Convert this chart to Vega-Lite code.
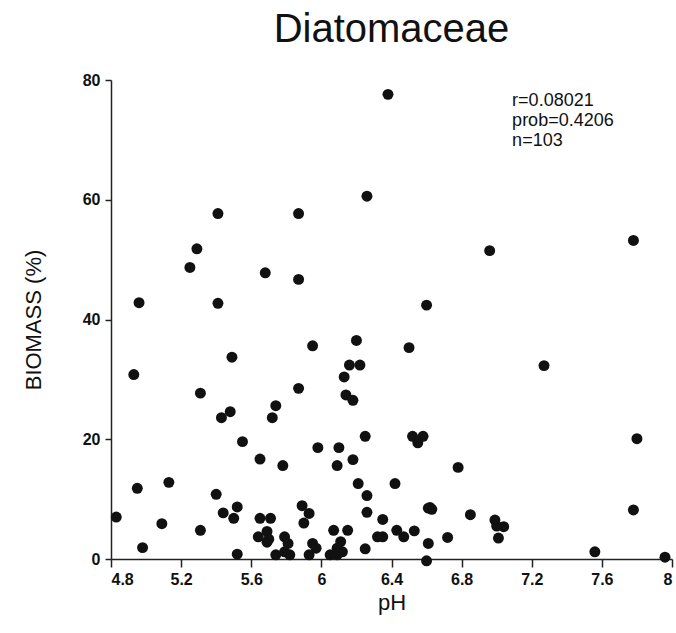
{
  "$schema": "https://vega.github.io/schema/vega-lite/v6.json",
  "autosize": "none",
  "width": 561,
  "height": 479,
  "padding": {"left": 111, "top": 80, "right": 4, "bottom": 74},
  "background": "white",
  "config": {"view": {"stroke": null}, "font": "Liberation Sans"},
  "title": {"text": "Diatomaceae", "fontSize": 40, "fontWeight": "normal", "font": "Liberation Sans", "color": "#111", "anchor": "middle", "offset": 22},
  "data": {"values": [
    {"pH": 6.38, "biomass": 77.6}, {"pH": 6.26, "biomass": 60.6}, {"pH": 5.41, "biomass": 57.7}, {"pH": 5.87, "biomass": 57.7},
    {"pH": 5.29, "biomass": 51.8}, {"pH": 5.25, "biomass": 48.7}, {"pH": 5.68, "biomass": 47.8}, {"pH": 5.87, "biomass": 46.7},
    {"pH": 4.96, "biomass": 42.8}, {"pH": 5.41, "biomass": 42.7}, {"pH": 6.96, "biomass": 51.5}, {"pH": 7.78, "biomass": 53.2},
    {"pH": 6.60, "biomass": 42.4}, {"pH": 4.93, "biomass": 30.8}, {"pH": 6.20, "biomass": 36.5}, {"pH": 5.95, "biomass": 35.6},
    {"pH": 5.49, "biomass": 33.7}, {"pH": 6.16, "biomass": 32.4}, {"pH": 6.22, "biomass": 32.4}, {"pH": 6.13, "biomass": 30.4},
    {"pH": 5.87, "biomass": 28.5}, {"pH": 5.31, "biomass": 27.7}, {"pH": 6.14, "biomass": 27.4}, {"pH": 6.18, "biomass": 26.5},
    {"pH": 5.74, "biomass": 25.6}, {"pH": 5.48, "biomass": 24.6}, {"pH": 5.43, "biomass": 23.6}, {"pH": 5.72, "biomass": 23.6},
    {"pH": 5.55, "biomass": 19.6}, {"pH": 6.25, "biomass": 20.5}, {"pH": 5.98, "biomass": 18.6}, {"pH": 6.10, "biomass": 18.6},
    {"pH": 5.65, "biomass": 16.7}, {"pH": 5.78, "biomass": 15.6}, {"pH": 6.09, "biomass": 15.6}, {"pH": 6.18, "biomass": 16.6},
    {"pH": 6.50, "biomass": 35.3}, {"pH": 7.27, "biomass": 32.3}, {"pH": 6.52, "biomass": 20.5}, {"pH": 6.58, "biomass": 20.5},
    {"pH": 6.55, "biomass": 19.4}, {"pH": 7.80, "biomass": 20.1}, {"pH": 6.78, "biomass": 15.3},
    {"pH": 4.95, "biomass": 11.8}, {"pH": 5.13, "biomass": 12.8}, {"pH": 6.21, "biomass": 12.6}, {"pH": 6.42, "biomass": 12.6},
    {"pH": 5.40, "biomass": 10.8}, {"pH": 6.26, "biomass": 10.6}, {"pH": 4.83, "biomass": 7.0}, {"pH": 5.09, "biomass": 5.9},
    {"pH": 5.31, "biomass": 4.8}, {"pH": 5.44, "biomass": 7.7}, {"pH": 5.50, "biomass": 6.8}, {"pH": 5.52, "biomass": 8.7},
    {"pH": 4.98, "biomass": 1.9}, {"pH": 5.52, "biomass": 0.8}, {"pH": 5.65, "biomass": 6.8}, {"pH": 5.71, "biomass": 6.8},
    {"pH": 5.64, "biomass": 3.7}, {"pH": 5.69, "biomass": 4.6}, {"pH": 5.69, "biomass": 2.8}, {"pH": 5.79, "biomass": 3.7},
    {"pH": 5.81, "biomass": 2.6}, {"pH": 5.79, "biomass": 1.2}, {"pH": 5.74, "biomass": 0.7}, {"pH": 5.82, "biomass": 0.7},
    {"pH": 5.89, "biomass": 8.9}, {"pH": 5.93, "biomass": 7.6}, {"pH": 5.90, "biomass": 6.0}, {"pH": 5.95, "biomass": 2.6},
    {"pH": 5.97, "biomass": 1.8}, {"pH": 5.93, "biomass": 0.7}, {"pH": 6.07, "biomass": 4.8}, {"pH": 6.15, "biomass": 4.8},
    {"pH": 6.11, "biomass": 2.9}, {"pH": 6.09, "biomass": 1.8}, {"pH": 6.05, "biomass": 0.7}, {"pH": 6.09, "biomass": 0.7},
    {"pH": 6.26, "biomass": 7.8}, {"pH": 6.35, "biomass": 6.6}, {"pH": 6.32, "biomass": 3.7}, {"pH": 6.35, "biomass": 3.7},
    {"pH": 6.43, "biomass": 4.8}, {"pH": 6.47, "biomass": 3.7}, {"pH": 6.53, "biomass": 4.7}, {"pH": 6.61, "biomass": 8.5},
    {"pH": 6.63, "biomass": 8.3}, {"pH": 6.85, "biomass": 7.4}, {"pH": 6.72, "biomass": 3.6}, {"pH": 6.61, "biomass": 2.6},
    {"pH": 6.25, "biomass": 1.7}, {"pH": 6.60, "biomass": -0.3}, {"pH": 6.99, "biomass": 6.5}, {"pH": 7.04, "biomass": 5.4},
    {"pH": 7.01, "biomass": 3.5}, {"pH": 7.78, "biomass": 8.2}, {"pH": 7.56, "biomass": 1.2}, {"pH": 7.96, "biomass": 0.3},
    {"pH": 7.00, "biomass": 5.5}, {"pH": 5.70, "biomass": 3.3}, {"pH": 6.12, "biomass": 1.2}, {"pH": 6.62, "biomass": 8.6}
  ]},
  "layer": [
    {
      "mark": {"type": "point", "filled": true, "shape": "circle", "size": 120, "color": "#111", "opacity": 1},
      "encoding": {
        "x": {"field": "pH", "type": "quantitative",
              "scale": {"domain": [4.8, 8], "nice": false, "zero": false},
              "axis": {"values": [4.8, 5.2, 5.6, 6, 6.4, 6.8, 7.2, 7.6, 8], "format": "~g", "title": "pH", "grid": false,
                       "domainColor": "#222", "domainWidth": 1.5, "tickColor": "#222", "tickSize": 8, "tickWidth": 1.5,
                       "labelFontSize": 16, "labelFontWeight": "bold", "labelColor": "#111", "labelPadding": 4,
                       "titleFontSize": 22, "titleFontWeight": "normal", "titleColor": "#111", "titlePadding": 5}},
        "y": {"field": "biomass", "type": "quantitative",
              "scale": {"domain": [0, 80], "nice": false},
              "axis": {"values": [0, 20, 40, 60, 80], "title": "BIOMASS  (%)", "grid": false,
                       "domainColor": "#222", "domainWidth": 1.5, "tickColor": "#222", "tickSize": 6, "tickWidth": 1.5,
                       "labelFontSize": 16, "labelFontWeight": "bold", "labelColor": "#111", "labelPadding": 5,
                       "titleFontSize": 22, "titleFontWeight": "normal", "titleColor": "#111", "titlePadding": 37}}
      }
    },
    {
      "data": {"values": [{}]},
      "mark": {"type": "text", "text": ["r=0.08021", "prob=0.4206", "n=103"], "align": "left", "baseline": "alphabetic",
               "fontSize": 18, "lineHeight": 20, "color": "#111", "font": "Liberation Sans"},
      "encoding": {"x": {"datum": 7.088}, "y": {"datum": 75.6}}
    }
  ]
}
